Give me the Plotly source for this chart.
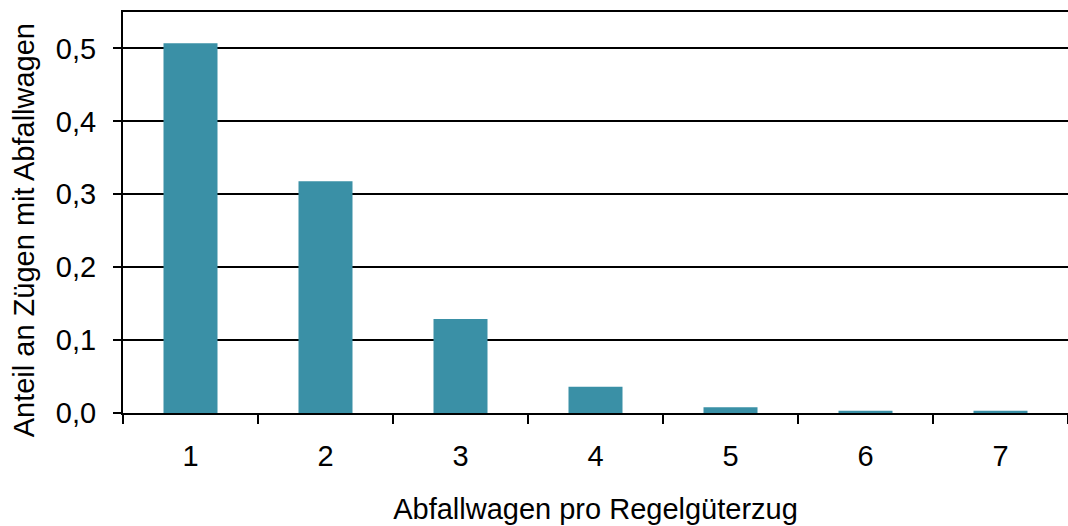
import plotly.graph_objects as go

categories = ["1", "2", "3", "4", "5", "6", "7"]
anteil = [0.507, 0.318, 0.129, 0.036, 0.008, 0.003, 0.003]
y_ticks = [0.0, 0.1, 0.2, 0.3, 0.4, 0.5]
y_labels = ["0,0", "0,1", "0,2", "0,3", "0,4", "0,5"]
x_title = "Abfallwagen pro Regelgüterzug"
y_title = "Anteil an Zügen mit Abfallwagen"

fig = go.Figure()
fig.add_trace(go.Bar(
    x=categories, y=anteil,
    marker=dict(color="#3A90A6", line=dict(width=0)),
    width=0.4,
))

font = "Arial, Liberation Sans, sans-serif"
fig.update_layout(
    width=1068, height=526,
    margin=dict(l=123, r=0, t=12, b=113),
    paper_bgcolor="white", plot_bgcolor="white",
    font=dict(family=font, size=29, color="black"),
    showlegend=False,
    separators=",.",
)
fig.update_xaxes(
    type="category",
    tickson="boundaries",
    ticks="outside", ticklen=9, tickwidth=2, tickcolor="black",
    showline=True, linecolor="black", linewidth=2, mirror=True,
    showgrid=False,
    tickfont=dict(size=29),
    ticklabelstandoff=16,
    title=dict(text=x_title, font=dict(size=29), standoff=28),
)
fig.update_yaxes(
    range=[0, 0.55],
    tickmode="array", tickvals=y_ticks, ticktext=y_labels,
    ticks="outside", ticklen=8, tickwidth=2, tickcolor="black",
    showline=True, linecolor="black", linewidth=2,
    showgrid=True, gridcolor="black", gridwidth=2,
    zeroline=False,
    tickfont=dict(size=29),
    ticklabelstandoff=11,
)
fig.add_annotation(
    text=y_title, textangle=-90,
    xref="paper", yref="paper", x=-0.105, y=0.455,
    xanchor="center", yanchor="middle",
    showarrow=False, font=dict(size=29),
)

fig.write_html("out.html", config={"displayModeBar": False},
               post_script="document.body.style.margin='0';")
